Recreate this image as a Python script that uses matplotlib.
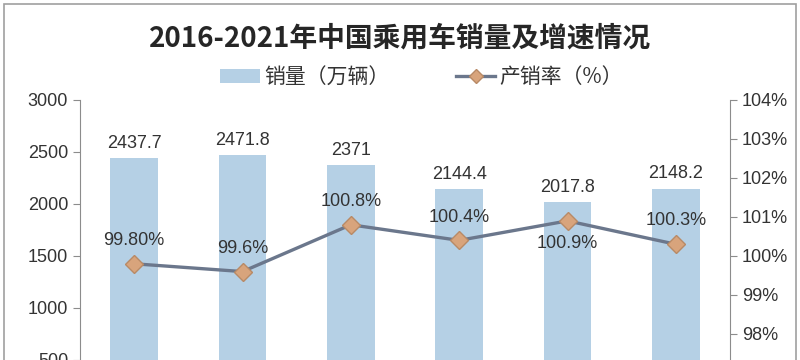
import matplotlib.pyplot as plt
from matplotlib.patches import Rectangle
from matplotlib.lines import Line2D
from matplotlib.patches import Patch

plt.rcParams['font.family'] = ['Noto Sans CJK SC', 'DejaVu Sans']

years = ['2016', '2017', '2018', '2019', '2020', '2021']
sales = [2437.7, 2471.8, 2371, 2144.4, 2017.8, 2148.2]
sales_labels = ['2437.7', '2471.8', '2371', '2144.4', '2017.8', '2148.2']
rate = [99.8, 99.6, 100.8, 100.4, 100.9, 100.3]
rate_labels = ['99.80%', '99.6%', '100.8%', '100.4%', '100.9%', '100.3%']
rate_below = [False, False, False, False, True, False]

bar_color = '#b5d0e5'
line_color = '#6b778c'
marker_color = '#d8a47c'
text_color = '#333333'
axis_color = '#8c8c8c'
num_font = 'Liberation Sans'

fig = plt.figure(figsize=(8, 3.6), dpi=100)
# the original picture is cropped at the bottom, so the axes run past the figure edge
ax = fig.add_axes([0.1, -0.1444, 0.8125, 0.8667])
ax2 = ax.twinx()

x = range(len(years))
ax.bar(x, sales, width=0.44, color=bar_color, zorder=2)
for i, v in enumerate(sales):
    ax.text(i, v + 60, sales_labels[i], ha='center', va='bottom', fontsize=13,
            color=text_color, family=num_font)

ax2.plot(x, rate, color=line_color, lw=2.4, marker='D', markersize=9,
         markerfacecolor=marker_color, markeredgecolor='#b88a66', zorder=3)
for i, v in enumerate(rate):
    if rate_below[i]:
        ax2.text(i, v - 0.35, rate_labels[i], ha='center', va='top', fontsize=13,
                 color=text_color, family=num_font)
    else:
        ax2.text(i, v + 0.38, rate_labels[i], ha='center', va='bottom', fontsize=13,
                 color=text_color, family=num_font)

ax.set_xlim(-0.5, 5.5)
ax.set_ylim(0, 3000)
ax.set_yticks(range(500, 3001, 500))
ax2.set_ylim(96, 104)
ax2.set_yticks(range(98, 105))
ax2.set_yticklabels([f'{t}%' for t in range(98, 105)])
ax.set_xticks([])

for a in (ax, ax2):
    a.spines['top'].set_visible(False)
    a.spines['bottom'].set_visible(False)
    a.spines['left'].set_color(axis_color)
    a.spines['right'].set_color(axis_color)
    a.tick_params(axis='y', colors=axis_color, labelcolor=text_color,
                  labelsize=13, length=5, direction='out')
    for lab in a.get_yticklabels():
        lab.set_family(num_font)
ax2.spines['left'].set_visible(False)
ax.spines['right'].set_visible(False)

fig.text(0.5, 0.893, '2016-2021年中国乘用车销量及增速情况', ha='center', va='center',
         fontsize=20, fontweight='bold', color='#262626')

handles = [Patch(facecolor=bar_color, label='销量（万辆）'),
           Line2D([0], [0], color=line_color, lw=2.4, marker='D', markersize=7,
                  markerfacecolor=marker_color, markeredgecolor='#b88a66',
                  label='产销率（%）')]
fig.legend(handles=handles, loc='center', bbox_to_anchor=(0.527, 0.785), ncol=2,
           frameon=False, fontsize=15, handlelength=1.9, handletextpad=0.2,
           columnspacing=3.2, labelcolor=text_color)

fig.add_artist(Rectangle((0.005, -0.01), 0.99, 1.0, transform=fig.transFigure,
                         fill=False, edgecolor='#a0a0a0', lw=1.2))

fig.savefig('out.png', dpi=100)
